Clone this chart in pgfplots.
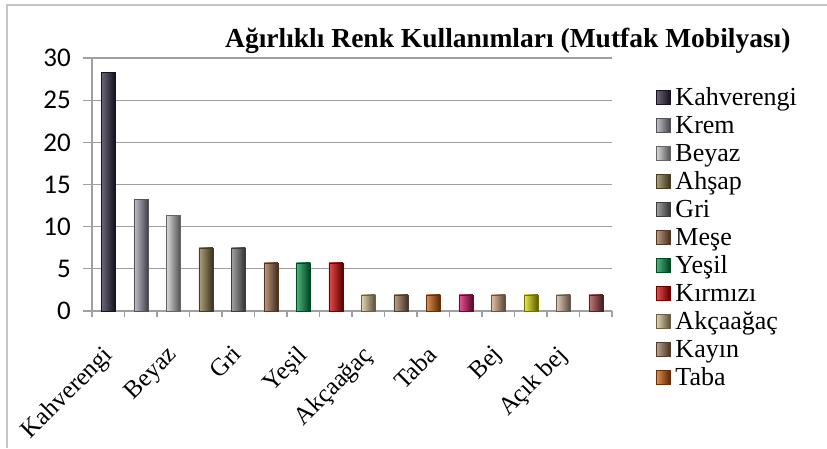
\documentclass[border=0pt]{standalone}
\usepackage{pgfplots}
\pgfplotsset{compat=1.18}
\usepackage{fontspec}
\setmainfont{Liberation Serif}
\newfontfamily\carlito{Carlito}
\definecolor{c1}{HTML}{2E2440}
\definecolor{c2}{HTML}{A9A6B5}
\definecolor{c3}{HTML}{C9C9C9}
\definecolor{c4}{HTML}{8C7A48}
\definecolor{c5}{HTML}{7B7B7B}
\definecolor{c6}{HTML}{A5704A}
\definecolor{c7}{HTML}{009A48}
\definecolor{c8}{HTML}{E00000}
\definecolor{c9}{HTML}{D9C08C}
\definecolor{c10}{HTML}{A57A5A}
\definecolor{c11}{HTML}{D2600A}
\definecolor{c12}{HTML}{E0106A}
\definecolor{c13}{HTML}{D9A67E}
\definecolor{c14}{HTML}{E6E600}
\definecolor{c15}{HTML}{D4B49C}
\definecolor{c16}{HTML}{A84444}
\definecolor{gridgray}{HTML}{A0A0A0}
\pgfplotsset{colbar/.style={ybar, bar width=14pt, bar shift=0pt, draw=#1!50!black, line width=0.5pt,
  left color=#1!70!white, middle color=#1, right color=#1!40!black}}
\begin{document}
\begin{tikzpicture}[x=1pt,y=1pt]
\useasboundingbox (0,0) rectangle (827,448);
\draw[gray!45, line width=1.5pt] (7,0) -- (7,443) -- (827,443);
\node[anchor=base west, font=\bfseries\fontsize{27.5}{30}\selectfont, inner sep=0pt] at (225,400) {Ağırlıklı Renk Kullanımları (Mutfak Mobilyası)};
\begin{axis}[
  at={(92pt,137pt)}, anchor=south west,
  scale only axis, width=520pt, height=253pt,
  xmin=-0.5, xmax=15.5, ymin=0, ymax=30,
  ytick={0,5,...,30},
  xtick={0,2,...,14},
  xticklabels={Kahverengi,Beyaz,Gri,Yeşil,Akçaağaç,Taba,Bej,Açık bej},
  minor xtick={-0.5,0.5,...,15.5},
  axis lines*=left,
  axis line style={draw=gridgray, line width=1.3pt},
  ymajorgrids,
  grid style={draw=gridgray, line width=1.3pt},
  tick style={draw=gridgray, line width=1.3pt},
  every major x tick/.append style={draw=none},
  major tick length=9pt, minor tick length=6pt, tick align=outside,
  /pgf/number format/assume math mode=true,
  yticklabel style={font=\carlito\fontsize{27}{27}\selectfont, anchor=east, inner sep=0pt, xshift=-12pt},
  xticklabel style={font=\fontsize{25}{25}\selectfont, rotate=45, anchor=north east, inner sep=0pt, xshift=-22pt, yshift=-12pt},
  legend style={at={(1.0846,0.893)}, anchor=north west, draw=none, fill=none,
    font=\fontsize{26}{28}\selectfont, inner sep=0pt, outer sep=0pt,
    nodes={inner sep=0pt, text height=20pt, text depth=8pt}, row sep=0pt, column sep=5pt},
  legend cell align=left,
  legend image code/.code={\path[#1] (0pt,-5pt) rectangle (14pt,9pt);},
]
\addplot[colbar=c1] coordinates {(0,28.3)}; \addlegendentry{Kahverengi}
\addplot[colbar=c2] coordinates {(1,13.2)}; \addlegendentry{Krem}
\addplot[colbar=c3] coordinates {(2,11.3)}; \addlegendentry{Beyaz}
\addplot[colbar=c4] coordinates {(3,7.5)}; \addlegendentry{Ahşap}
\addplot[colbar=c5] coordinates {(4,7.5)}; \addlegendentry{Gri}
\addplot[colbar=c6] coordinates {(5,5.7)}; \addlegendentry{Meşe}
\addplot[colbar=c7] coordinates {(6,5.7)}; \addlegendentry{Yeşil}
\addplot[colbar=c8] coordinates {(7,5.7)}; \addlegendentry{Kırmızı}
\addplot[colbar=c9] coordinates {(8,1.9)}; \addlegendentry{Akçaağaç}
\addplot[colbar=c10] coordinates {(9,1.9)}; \addlegendentry{Kayın}
\addplot[colbar=c11] coordinates {(10,1.9)}; \addlegendentry{Taba}
\addplot[colbar=c12, forget plot] coordinates {(11,1.9)};
\addplot[colbar=c13, forget plot] coordinates {(12,1.9)};
\addplot[colbar=c14, forget plot] coordinates {(13,1.9)};
\addplot[colbar=c15, forget plot] coordinates {(14,1.9)};
\addplot[colbar=c16, forget plot] coordinates {(15,1.9)};
\end{axis}
\end{tikzpicture}
\end{document}
